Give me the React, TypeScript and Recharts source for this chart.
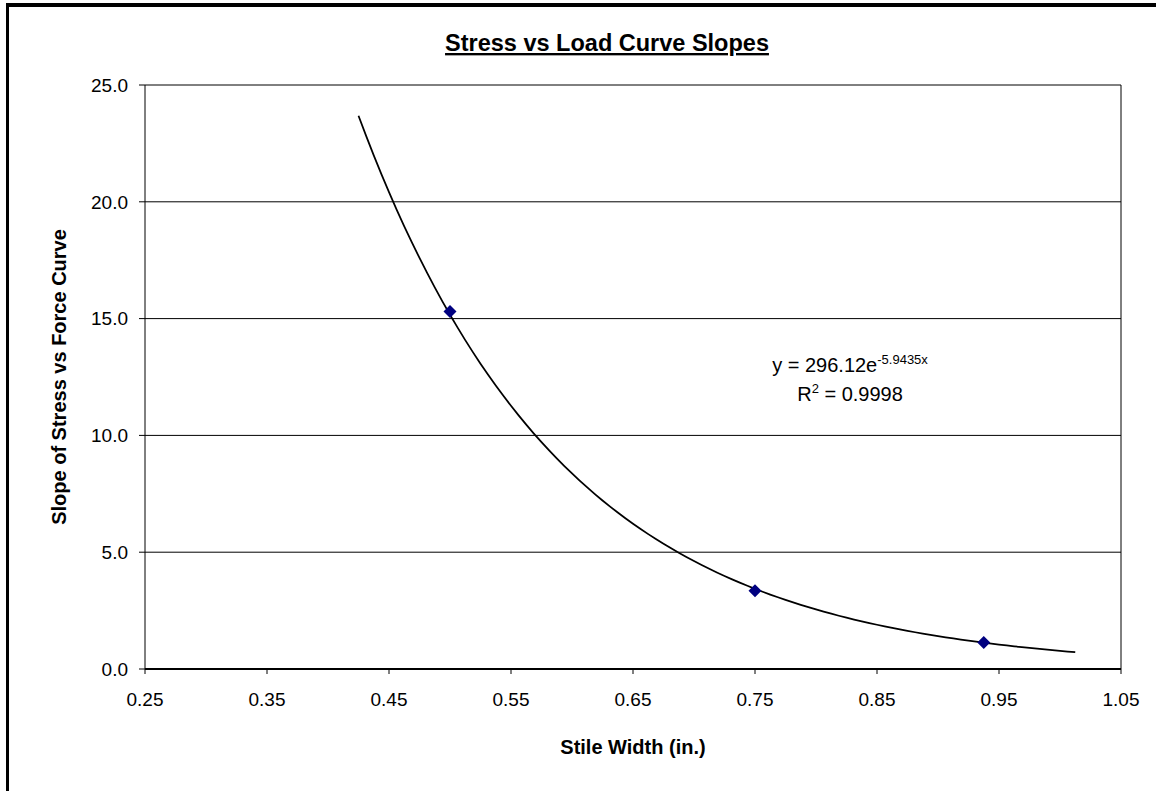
import React from 'react';
import {
  ComposedChart,
  Scatter,
  XAxis,
  YAxis,
  CartesianGrid,
  ReferenceLine,
} from 'recharts';

// measured slopes
const stileWidths = [0.5, 0.75, 0.9375];
const slopes = [15.3, 3.35, 1.13];

// exponential fit y = a * e^(b x), forecast 0.075 each side
const fitA = 296.12;
const fitB = -5.9435;
const fitR2 = 0.9998;
const fitFrom = 0.425;
const fitTo = 1.0125;
const fitSteps = 94;

const xTicks = [0.25, 0.35, 0.45, 0.55, 0.65, 0.75, 0.85, 0.95, 1.05];
const yTicks = [0, 5, 10, 15, 20, 25];

const points = stileWidths.map((x, i) => ({ x, y: slopes[i] }));
const trend = Array.from({ length: fitSteps + 1 }, (_, i) => {
  const x = fitFrom + ((fitTo - fitFrom) * i) / fitSteps;
  return { x, y: fitA * Math.exp(fitB * x) };
});

const FONT = '"Liberation Sans", Arial, sans-serif';
const W = 1156;
const H = 791;

const Diamond = (props: any) => {
  const { cx, cy } = props;
  const r = 6.5;
  return (
    <polygon
      points={`${cx},${cy - r} ${cx + r},${cy} ${cx},${cy + r} ${cx - r},${cy}`}
      fill="#000080"
    />
  );
};

export default function App() {
  return (
    <div
      style={{
        position: 'absolute',
        left: 0,
        top: 0,
        width: W,
        height: H,
        background: '#fff',
        overflow: 'hidden',
      }}
    >
      {/* chart area frame, only top and left edges fall inside */}
      <div
        style={{
          position: 'absolute',
          left: 6,
          top: 3,
          width: 1200,
          height: 800,
          borderTop: '4px solid #000',
          borderLeft: '3px solid #000',
        }}
      />
      <ComposedChart
        width={W}
        height={H}
        margin={{ top: 85, right: 35, bottom: 92, left: 0 }}
        style={{ position: 'absolute', left: 0, top: 0 }}
      >
        <CartesianGrid horizontal vertical={false} stroke="#000" />
        <XAxis
          type="number"
          dataKey="x"
          domain={[0.25, 1.05]}
          ticks={xTicks}
          tickFormatter={(v: number) => v.toFixed(2)}
          height={30}
          axisLine={{ stroke: '#000', strokeWidth: 2 }}
          tickLine={{ stroke: '#000' }}
          tickSize={5}
          tickMargin={19}
          tick={{ fill: '#000', fontSize: 19, fontFamily: FONT }}
        />
        <YAxis
          type="number"
          dataKey="y"
          domain={[0, 25]}
          ticks={yTicks}
          tickFormatter={(v: number) => v.toFixed(1)}
          width={145}
          axisLine={{ stroke: '#000' }}
          tickLine={{ stroke: '#000' }}
          tickSize={6}
          tickMargin={11}
          tick={{ fill: '#000', fontSize: 19, fontFamily: FONT }}
        />
        <ReferenceLine x={1.05} stroke="#000" />
        <Scatter
          data={trend}
          line={{ stroke: '#000', strokeWidth: 1.75 }}
          lineType="joint"
          shape={() => null}
          isAnimationActive={false}
        />
        <Scatter data={points} shape={<Diamond />} isAnimationActive={false} />
      </ComposedChart>

      {/* titles and trendline label */}
      <svg
        width={W}
        height={H}
        style={{ position: 'absolute', left: 0, top: 0, pointerEvents: 'none' }}
        fontFamily={FONT}
        fill="#000"
      >
        <text
          x={607}
          y={51}
          textAnchor="middle"
          fontSize={23.5}
          fontWeight="bold"
          style={{ textDecoration: 'underline' }}
        >
          Stress vs Load Curve Slopes
        </text>
        <text x={633} y={754} textAnchor="middle" fontSize={20} fontWeight="bold">
          Stile Width (in.)
        </text>
        <text
          transform="translate(66,377) rotate(-90)"
          textAnchor="middle"
          fontSize={20}
          fontWeight="bold"
        >
          Slope of Stress vs Force Curve
        </text>
        <text x={850} y={372} textAnchor="middle" fontSize={20}>
          {`y = ${fitA.toFixed(2)}e`}
          <tspan fontSize={13} dy={-8}>{`${fitB}x`}</tspan>
        </text>
        <text x={850} y={401} textAnchor="middle" fontSize={20}>
          R<tspan fontSize={13} dy={-8}>2</tspan>
          <tspan dy={8}>{` = ${fitR2}`}</tspan>
        </text>
      </svg>
    </div>
  );
}
